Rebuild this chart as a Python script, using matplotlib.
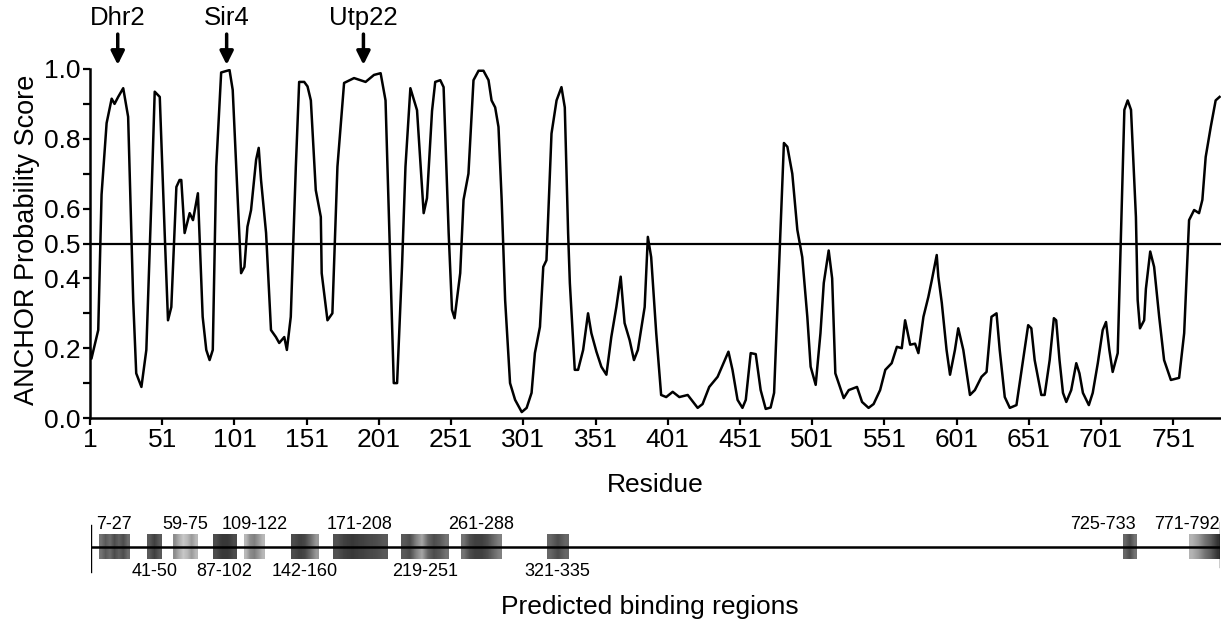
import numpy as np
import matplotlib
matplotlib.use('Agg')
import matplotlib.pyplot as plt

plt.rcParams['font.family'] = ['Liberation Sans', 'DejaVu Sans']

#%% data
residue = [1, 2, 6.7, 9, 12.5, 16, 18, 20.5, 24, 27.4, 30.9, 33, 36.6, 40, 43.5, 45.8,
           49.3, 52.7, 55, 57.3, 60.8, 63, 64.2, 66.5, 70, 72.3, 75.7, 79, 81.5, 83.8,
           86, 88.4, 91.8, 97.6, 99.8, 103.3, 105.6, 107.9, 110, 112.5, 116, 117.8,
           119.4, 122.9, 126.3, 129.7, 132, 135.5, 137.3, 140, 143.5, 145.8, 149.3,
           151.6, 153.9, 157.3, 160.8, 161.4, 165.4, 168.8, 172.3, 176.9, 183.8, 191.8,
           197.6, 202.2, 205.6, 209, 211.3, 213.6, 217, 219.4, 222.8, 227.4, 228.6, 232,
           234.3, 237.8, 240, 243.5, 245.8, 249.3, 251.6, 253.4, 257.3, 259.6, 263,
           266.5, 270, 273.4, 276.9, 279, 281.5, 283.8, 286, 288.4, 291.8, 295.3, 299.9,
           303.3, 306.7, 309, 312.5, 314.8, 317, 320.5, 324, 327.4, 329.7, 332, 333.2,
           336.6, 338.9, 342.4, 345.8, 348.1, 351.6, 355, 358.5, 361.9, 365.4, 368.4,
           371.1, 374.6, 377.6, 380.3, 385, 387.2, 389.5, 393, 396.4, 399.9, 404.4, 409,
           414.8, 421.7, 425.1, 429.7, 435.5, 439.6, 443, 445.8, 449.3, 452.7, 455,
           458.4, 461.9, 465.3, 468.8, 472.2, 474.6, 478, 481.4, 483.8, 487.2, 490.7,
           494.1, 497.6, 499.9, 503.4, 506.7, 509, 512.4, 514.8, 517, 522.8, 526.3, 532,
           535.5, 540, 543.5, 548, 551.6, 556, 559.6, 563, 565.3, 568.8, 572.2, 574.5,
           578, 581.4, 583.8, 587.2, 588.3, 590.7, 594, 596.4, 599.8, 602.1, 605.6,
           610.2, 613.6, 618.2, 621.7, 625.1, 628.6, 630.8, 634.3, 637.8, 642.4, 647,
           650.5, 652.7, 655, 659.6, 661.9, 665.4, 668.3, 669.9, 672.2, 674.6, 676.9,
           680.3, 683.8, 686, 688.4, 692.5, 695.2, 698.7, 702.1, 704.4, 706.7, 709,
           712.5, 714.8, 717.1, 719.4, 721.7, 725.1, 726.3, 727.9, 730.8, 732, 735,
           737.7, 741.2, 744.6, 749.3, 755, 758.5, 761.9, 765.4, 768.8, 771.1, 773.4,
           776.9, 780.3, 783]
score = [0.20, 0.17, 0.252, 0.64, 0.845, 0.915, 0.90, 0.92, 0.945, 0.863, 0.338, 0.128,
         0.089, 0.195, 0.625, 0.935, 0.92, 0.53, 0.28, 0.318, 0.662, 0.682, 0.682, 0.53,
         0.587, 0.567, 0.644, 0.29, 0.195, 0.166, 0.195, 0.72, 0.99, 0.997, 0.94, 0.625,
         0.415, 0.433, 0.548, 0.596, 0.74, 0.774, 0.682, 0.53, 0.252, 0.232, 0.215,
         0.232, 0.195, 0.29, 0.72, 0.963, 0.963, 0.95, 0.91, 0.653, 0.576, 0.415, 0.28,
         0.30, 0.72, 0.96, 0.974, 0.963, 0.983, 0.988, 0.91, 0.433, 0.10, 0.10, 0.433,
         0.72, 0.945, 0.882, 0.805, 0.587, 0.63, 0.88, 0.963, 0.968, 0.948, 0.53, 0.31,
         0.286, 0.415, 0.625, 0.70, 0.968, 0.995, 0.995, 0.968, 0.91, 0.89, 0.834, 0.625,
         0.338, 0.10, 0.052, 0.017, 0.029, 0.072, 0.186, 0.261, 0.433, 0.452, 0.815,
         0.91, 0.948, 0.89, 0.53, 0.387, 0.138, 0.138, 0.195, 0.30, 0.243, 0.19, 0.147,
         0.124, 0.232, 0.318, 0.405, 0.272, 0.223, 0.166, 0.195, 0.318, 0.519, 0.461,
         0.243, 0.066, 0.06, 0.075, 0.06, 0.066, 0.029, 0.04, 0.089, 0.118, 0.157, 0.19,
         0.138, 0.052, 0.029, 0.052, 0.186, 0.183, 0.08, 0.026, 0.03, 0.072, 0.433,
         0.788, 0.777, 0.70, 0.539, 0.461, 0.29, 0.147, 0.095, 0.243, 0.387, 0.48, 0.40,
         0.128, 0.057, 0.08, 0.089, 0.046, 0.029, 0.04, 0.08, 0.138, 0.157, 0.204, 0.20,
         0.28, 0.21, 0.213, 0.186, 0.29, 0.347, 0.395, 0.467, 0.405, 0.33, 0.195, 0.124,
         0.195, 0.257, 0.195, 0.066, 0.08, 0.118, 0.132, 0.29, 0.30, 0.195, 0.06, 0.029,
         0.037, 0.166, 0.266, 0.257, 0.166, 0.066, 0.066, 0.166, 0.286, 0.28, 0.166,
         0.072, 0.046, 0.08, 0.157, 0.128, 0.072, 0.037, 0.072, 0.157, 0.252, 0.275,
         0.195, 0.132, 0.186, 0.53, 0.883, 0.91, 0.883, 0.576, 0.338, 0.257, 0.28, 0.37,
         0.477, 0.433, 0.29, 0.166, 0.109, 0.115, 0.243, 0.567, 0.596, 0.587, 0.625,
         0.748, 0.834, 0.91, 0.92]

x_ticks = [1, 51, 101, 151, 201, 251, 301, 351, 401, 451, 501, 551, 601, 651, 701, 751]
y_ticks = [0.0, 0.1, 0.2, 0.3, 0.4, 0.5, 0.6, 0.7, 0.8, 0.9, 1.0]
y_tick_labels = ['0.0', '', '0.2', '', '0.4', '0.5', '0.6', '', '0.8', '', '1.0']
threshold = 0.5

targets = ['Dhr2', 'Sir4', 'Utp22']
target_residue = [20.2, 95.6, 190.3]

region_start = [7, 41, 59, 87, 109, 142, 171, 219, 261, 321, 725, 771]
region_end = [27, 50, 75, 102, 122, 160, 208, 251, 288, 335, 733, 792]
region_above = [True, False, True, False, True, False, True, False, True, False, True, True]
region_ha = ['center'] * 10 + ['right', 'right']
# grey level across each block (0 black, 1 white)
region_shade = [[0.45, 0.35, 0.42, 0.3, 0.38, 0.3, 0.42],
                [0.35, 0.25, 0.35],
                [0.55, 0.68, 0.78, 0.72, 0.6, 0.72],
                [0.3, 0.22, 0.22, 0.3],
                [0.72, 0.55, 0.5, 0.6, 0.72],
                [0.3, 0.25, 0.28, 0.42, 0.6],
                [0.32, 0.25, 0.22, 0.25, 0.28, 0.3, 0.35],
                [0.35, 0.3, 0.5, 0.65, 0.4, 0.3, 0.35, 0.45],
                [0.45, 0.3, 0.25, 0.25, 0.3, 0.4, 0.5],
                [0.4, 0.3, 0.4],
                [0.4, 0.3, 0.45],
                [0.7, 0.6, 0.45, 0.35, 0.2]]
n_residues = 792

#%% figure
W, H = 1221, 626
fig = plt.figure(figsize=(W / 100, H / 100), dpi=100)

ax = fig.add_axes([90 / W, 1 - 418 / H, 1 - 90 / W, (418 - 69) / H])
ax.plot(residue, score, color='k', lw=1.8)
ax.axhline(threshold, color='k', lw=1.6)
ax.set_xlim(1, 784)
ax.set_ylim(0, 1.0)
ax.set_xticks(x_ticks)
ax.set_yticks(y_ticks)
ax.set_yticklabels(y_tick_labels)
for s in ['top', 'right']:
    ax.spines[s].set_visible(False)
for s in ['left', 'bottom']:
    ax.spines[s].set_linewidth(1.8)
ax.tick_params(direction='out', length=5, width=1.6, labelsize=19, pad=2)

for name, pos in zip(targets, target_residue):
    ax.annotate('', xy=(pos, 1.012), xytext=(pos, 1.1), xycoords='data',
                arrowprops=dict(arrowstyle='-|>', lw=2.5, color='k', mutation_scale=20,
                                shrinkA=0, shrinkB=0), annotation_clip=False)
    ax.text(pos, 1.145, name, ha='center', va='center', fontsize=18.5, clip_on=False)

fig.text(27 / W, 1 - 240 / H, 'ANCHOR Probability Score', rotation=90,
         ha='center', va='center', fontsize=19.5)
fig.text(655 / W, 1 - 485 / H, 'Residue', ha='center', va='center', fontsize=19)

#%% predicted binding regions
ax2 = fig.add_axes([91 / W, 1 - 583 / H, (1220 - 91) / W, 73 / H])
for s, e, shade in zip(region_start, region_end, region_shade):
    ax2.imshow(np.array(shade)[None, :], cmap='gray', vmin=0, vmax=1,
               extent=(s - 0.7, e + 0.7, -0.33, 0.33), aspect='auto',
               interpolation='bilinear', zorder=1)
ax2.axhline(0, color='k', lw=1.8, zorder=3)
ax2.plot([1, 1], [0.59, -0.7], color='k', lw=1.0)
ax2.plot([n_residues, n_residues], [0.66, -0.55], color='k', lw=1.0)
for s, e, up, ha in zip(region_start, region_end, region_above, region_ha):
    label = '{0}-{1}'.format(s, e)
    xpos = (s + e) / 2 if ha == 'center' else e
    if up:
        ax2.text(xpos, 0.36, label, ha=ha, va='bottom', fontsize=13)
    else:
        ax2.text(xpos, -0.45, label, ha=ha, va='top', fontsize=13)
ax2.set_xlim(1, n_residues)
ax2.set_ylim(-1, 1)
ax2.axis('off')

fig.text(650 / W, 1 - 607 / H, 'Predicted binding regions', ha='center', va='center',
         fontsize=19)

plt.savefig('out.png', dpi=100)
